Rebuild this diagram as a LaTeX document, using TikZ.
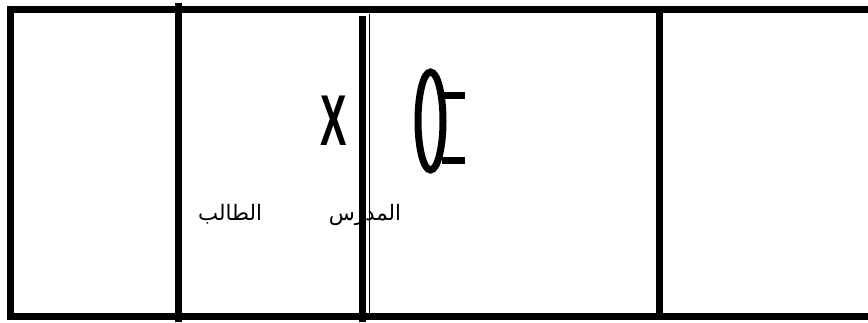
\documentclass[tikz,border=0pt]{standalone}
\usepackage{fontspec}
\setmainfont{Liberation Sans}
\newfontfamily\arabicfont[Script=Arabic]{DejaVu Sans}
\TeXXeTstate=1

\begin{document}
\begin{tikzpicture}[x=0.75pt, y=-0.75pt]

\useasboundingbox (0,0) rectangle (868,322);
\tikzset{thickline/.style={line width=5.25pt}}

% labels first, the lines pass over them
\node (talib) at (230, 214) {\arabicfont\fontsize{16}{18}\selectfont\beginR الطالب\endR};
\node (mudarris) at (365, 215) {\arabicfont\fontsize{16}{18}\selectfont\beginR المدرس\endR};
\node (cross) at (334, 121) {\fontsize{54}{54}\selectfont\bfseries\scalebox{0.55}[1]{X}};

% outer frame, open on the right
\draw[thickline, line join=miter] (868, 9.5) -- (10.5, 9.5) -- (10.5, 316) -- (868, 316);

% columns
\foreach \x/\a/\b in {178/3/322, 362/16/322, 659/13/316}
	\draw[thickline] (\x, \a) -- (\x, \b);
\draw[line width=1.1pt] (369.5, 14) -- (369.5, 318);

% the mark
\draw[thickline] (430.5, 121) ellipse (12.5 and 49);
\foreach \y in {95, 160}
	\draw[thickline] (442, \y) -- (465, \y);

\end{tikzpicture}
\end{document}
